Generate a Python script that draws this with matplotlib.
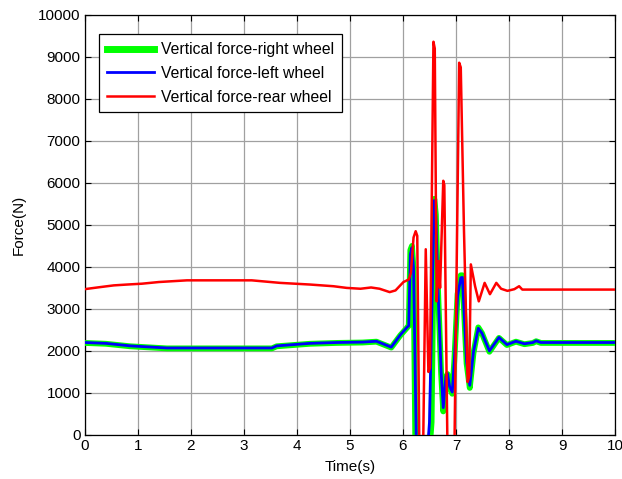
import matplotlib
matplotlib.use("Agg")
import matplotlib.pyplot as plt

# Rear wheel vertical force (N)
t_rear = [0, 0.3, 0.55, 0.8, 1.08, 1.4, 1.93, 3.15, 3.68, 4.25, 4.69, 4.94, 5.2, 5.4,
          5.56, 5.75, 5.86, 6.01, 6.11, 6.15, 6.2, 6.24, 6.27, 6.31, 6.38, 6.43, 6.48,
          6.51, 6.575, 6.6, 6.635, 6.67, 6.70, 6.76, 6.78, 6.84, 6.97, 7.06, 7.09,
          7.15, 7.22, 7.25, 7.28, 7.36, 7.43, 7.54, 7.64, 7.76, 7.85, 7.97, 8.1,
          8.19, 8.25, 10]
f_rear = [3470, 3520, 3560, 3580, 3600, 3640, 3680, 3680, 3620, 3580, 3540, 3500, 3480, 3510,
          3480, 3400, 3440, 3640, 3700, 3860, 4700, 4850, 4740, -400, -400, 4420, 1500,
          1600, 9360, 9200, 3180, 4140, 3500, 6050, 5950, -400, -400, 8860, 8750,
          4900, 1260, 1400, 4060, 3540, 3180, 3620, 3350, 3620, 3480, 3430, 3470,
          3540, 3460, 3460]

# Left wheel vertical force (N)
t_left = [0, 0.4, 0.86, 1.55, 3.53, 3.62, 4.25, 4.75, 5.24, 5.5, 5.78, 5.95, 6.075, 6.11,
          6.14, 6.17, 6.2, 6.255, 6.46, 6.50, 6.59, 6.62, 6.66, 6.72, 6.76, 6.81, 6.84,
          6.88, 6.93, 6.97, 7.03, 7.09, 7.12, 7.2, 7.26, 7.33, 7.42, 7.49, 7.53, 7.63,
          7.81, 7.96, 8.13, 8.29, 8.45, 8.51, 8.6, 10]
f_left = [2200, 2180, 2120, 2070, 2070, 2120, 2180, 2200, 2210, 2230, 2090, 2380, 2560, 2600,
          4300, 4460, 3980, -400, -400, 300, 5580, 5200, 3500, 1500, 650, 1400, 1460,
          1150, 1020, 1800, 3300, 3740, 3750, 1740, 1180, 1980, 2540, 2420, 2300, 2000,
          2320, 2150, 2230, 2170, 2200, 2240, 2200, 2200]

# Right wheel vertical force (N)
t_right = [0, 0.4, 0.86, 1.55, 3.53, 3.62, 4.25, 4.75, 5.24, 5.5, 5.78, 5.95, 6.075, 6.11,
           6.14, 6.17, 6.2, 6.235, 6.5, 6.54, 6.59, 6.62, 6.66, 6.72, 6.76, 6.81, 6.84,
           6.88, 6.93, 6.97, 7.03, 7.09, 7.12, 7.2, 7.26, 7.33, 7.42, 7.49, 7.53, 7.63,
           7.81, 7.96, 8.13, 8.29, 8.45, 8.51, 8.6, 10]
f_right = [2190, 2170, 2110, 2060, 2060, 2110, 2170, 2190, 2200, 2220, 2080, 2370, 2550, 2600,
           4400, 4500, 3950, -400, -400, 300, 5620, 5250, 3500, 1450, 560, 1350, 1450,
           1120, 980, 1800, 3350, 3800, 3800, 1700, 1120, 1950, 2560, 2420, 2290, 1980,
           2310, 2140, 2220, 2160, 2190, 2230, 2190, 2190]

x_ticks = list(range(0, 11))
y_ticks = list(range(0, 10001, 1000))

plt.rcParams["font.family"] = ["Liberation Sans", "DejaVu Sans"]

fig = plt.figure(figsize=(6.22, 4.79), dpi=100)
ax = fig.add_axes([0.136, 0.092, 0.853, 0.877])

ax.plot(t_right, f_right, color="#00ff00", lw=4.2, solid_joinstyle="round",
        label="Vertical force-right wheel", zorder=3)
ax.plot(t_left, f_left, color="#0000ff", lw=2.0, solid_joinstyle="round",
        label="Vertical force-left wheel", zorder=4)
ax.plot(t_rear, f_rear, color="#ff0000", lw=1.8, solid_joinstyle="round",
        label="Vertical force-rear wheel", zorder=5)

ax.set_xlim(0, 10)
ax.set_ylim(0, 10000)
ax.set_xticks(x_ticks)
ax.set_yticks(y_ticks)
ax.tick_params(direction="in", top=True, right=True, length=4, width=0.8,
               labelsize=11, pad=3)
ax.grid(True, color="#a0a0a0", lw=0.9)
ax.set_axisbelow(True)
for s in ax.spines.values():
    s.set_linewidth(0.9)

ax.set_xlabel("Time(s)", fontsize=11, labelpad=5)
ax.set_ylabel("Force(N)", fontsize=11, labelpad=9)

leg = ax.legend(loc="upper left", bbox_to_anchor=(0.012, 0.972), fontsize=11.3,
                frameon=True, fancybox=False, framealpha=1, edgecolor="black",
                handlelength=3.0, handletextpad=0.45, borderpad=0.5,
                labelspacing=0.55)
leg.get_frame().set_linewidth(0.9)
leg.get_lines()[0].set_linewidth(5)

fig.savefig("out.png", dpi=100)
